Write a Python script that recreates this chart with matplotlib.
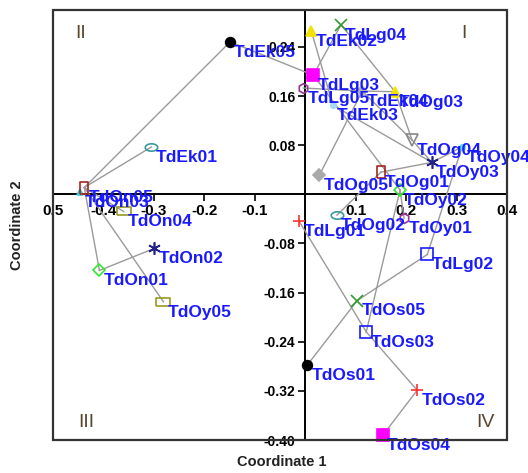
import numpy as np
import matplotlib
matplotlib.use("Agg")
import matplotlib.pyplot as plt
from matplotlib.path import Path
from matplotlib.patches import Rectangle

plt.rcParams["font.family"] = ["Liberation Sans", "DejaVu Sans"]

# point names and coordinates
names = ["TdEk01", "TdEk02", "TdEk03", "TdEk04", "TdEk05",
         "TdLg01", "TdLg02", "TdLg03", "TdLg04", "TdLg05",
         "TdOg01", "TdOg02", "TdOg03", "TdOg04", "TdOg05",
         "TdOn01", "TdOn02", "TdOn03", "TdOn04", "TdOn05",
         "TdOs01", "TdOs02", "TdOs03", "TdOs04", "TdOs05",
         "TdOy01", "TdOy02", "TdOy03", "TdOy04", "TdOy05"]
coord1 = [-0.305, 0.012, 0.055, 0.113, -0.149,
          -0.012, 0.242, 0.016, 0.071, -0.004,
          0.150, 0.063, 0.178, 0.212, 0.028,
          -0.408, -0.299, -0.446, -0.360, -0.438,
          0.004, 0.222, 0.121, 0.154, 0.103,
          0.196, 0.188, 0.251, 0.311, -0.281]
coord2 = [0.077, 0.266, 0.145, 0.168, 0.248,
          -0.044, -0.098, 0.194, 0.276, 0.173,
          0.036, -0.034, 0.167, 0.088, 0.031,
          -0.124, -0.088, 0.003, -0.028, 0.011,
          -0.278, -0.319, -0.224, -0.392, -0.173,
          -0.039, 0.007, 0.052, 0.077, -0.175]

# connections between points
links = [("TdOn05", "TdEk05"), ("TdOn05", "TdEk01"), ("TdOn05", "TdOn01"),
         ("TdOn05", "TdOy05"), ("TdOn01", "TdOn02"), ("TdOn05", "TdOn04"),
         ("TdEk05", "TdLg03"), ("TdLg04", "TdLg03"), ("TdEk02", "TdEk03"),
         ("TdLg04", "TdOg03"), ("TdLg05", "TdEk04"), ("TdEk04", "TdOg03"),
         ("TdOg03", "TdOg04"), ("TdEk04", "TdOg04"), ("TdOg05", "TdEk04"),
         ("TdEk03", "TdOy03"), ("TdLg03", "TdOy02"), ("TdOg01", "TdOy03"),
         ("TdOy03", "TdOy04"), ("TdOg04", "TdOy03"), ("TdOy04", "TdLg02"),
         ("TdLg02", "TdOs05"), ("TdOs05", "TdOs01"), ("TdLg01", "TdOs03"),
         ("TdOs03", "TdOs02"), ("TdOs02", "TdOs04"), ("TdOs03", "TdOy02"),
         ("TdOg02", "TdOg01"), ("TdOy02", "TdOy01")]

xtick_vals = [-0.5, -0.4, -0.3, -0.2, -0.1, 0.1, 0.2, 0.3, 0.4]
xtick_text = ["0.5", "-0.4", "-0.3", "-0.2", "-0.1", "0.1", "0.2", "0.3", "0.4"]
ytick_vals = [-0.40, -0.32, -0.24, -0.16, -0.08, 0.08, 0.16, 0.24]
ytick_text = ["-0.40", "-0.32", "-0.24", "-0.16", "-0.08", "0.08", "0.16", "0.24"]

quad_text = ["II", "I", "III", "IV"]
quad_x = [-0.455, 0.31, -0.45, 0.34]
quad_y = [0.262, 0.262, -0.372, -0.372]

# marker shapes
ell = Path(np.column_stack([np.cos(np.linspace(0, 2 * np.pi, 40)) * 1.7,
                            np.sin(np.linspace(0, 2 * np.pi, 40))]))
tall = Path([(-0.32, -0.5), (0.32, -0.5), (0.32, 0.5), (-0.32, 0.5), (-0.32, -0.5)])
wide = Path([(-0.5, -0.28), (0.5, -0.28), (0.5, 0.28), (-0.5, 0.28), (-0.5, -0.28)])

# name -> (marker, colour, filled, size)
styles = {
    "TdEk01": (ell, "#3a9a9a", False, 9),
    "TdEk02": ("^", "#f2e200", True, 7),
    "TdEk03": ("o", "#a8d8f5", True, 4),
    "TdEk04": ("D", "#b0b0b0", True, 5),
    "TdEk05": ("o", "black", True, 7),
    "TdLg01": ("+", "#ff3030", False, 9),
    "TdLg02": ("s", "#1a1aff", False, 9),
    "TdLg03": ("s", "#ff00ff", True, 8),
    "TdLg04": ("x", "#339933", False, 8),
    "TdLg05": ("h", "#993399", False, 7),
    "TdOg01": (tall, "#aa2222", False, 8),
    "TdOg02": (ell, "#3a9a9a", False, 9),
    "TdOg03": ("^", "#f2e200", True, 7),
    "TdOg04": ("v", "#888888", False, 8),
    "TdOg05": ("D", "#aaaaaa", True, 6),
    "TdOn01": ("D", "#33e633", False, 6),
    "TdOn02": ((6, 2, 0), "#222288", False, 9),
    "TdOn03": ("^", "#33cccc", True, 5),
    "TdOn04": (wide, "#9a9a20", False, 10),
    "TdOn05": (tall, "#aa2222", False, 8),
    "TdOs01": ("o", "black", True, 7),
    "TdOs02": ("+", "#ff3030", False, 9),
    "TdOs03": ("s", "#1a1aff", False, 9),
    "TdOs04": ("s", "#ff00ff", True, 8),
    "TdOs05": ("x", "#339933", False, 8),
    "TdOy01": ("h", "#993399", False, 7),
    "TdOy02": ("D", "#33e633", False, 6),
    "TdOy03": ((6, 2, 0), "#222288", False, 9),
    "TdOy04": ("o", "#66e0ff", True, 4),
    "TdOy05": (wide, "#9a9a20", False, 10),
}

pos = {n: (x, y) for n, x, y in zip(names, coord1, coord2)}

fig = plt.figure(figsize=(5.28, 4.73), dpi=100)
ax = fig.add_axes([53 / 528, 1 - 440 / 473, 454 / 528, 430 / 473])
ax.set_xlim(-0.5, 0.4)
ax.set_ylim(-0.40, 0.30)

# axes through the origin plus an outer frame
ax.spines["left"].set_position(("data", 0))
ax.spines["bottom"].set_position(("data", 0))
ax.spines["top"].set_visible(False)
ax.spines["right"].set_visible(False)
for s in ("left", "bottom"):
    ax.spines[s].set_color("black")
    ax.spines[s].set_linewidth(1.4)
    ax.spines[s].set_zorder(1)
ax.add_patch(Rectangle((0, 0), 1, 1, transform=ax.transAxes, fill=False,
                       edgecolor="#333333", lw=1.6, clip_on=False, zorder=5))

ax.set_xticks(xtick_vals)
ax.set_xticklabels(xtick_text, fontsize=11, fontweight="bold")
ax.set_yticks(ytick_vals)
ax.set_yticklabels(ytick_text, fontsize=10, fontweight="bold")
ax.tick_params(axis="x", direction="out", length=5, width=1.2, pad=2)
ax.tick_params(axis="y", direction="out", length=5, width=1.2, pad=2)

for a, b in links:
    ax.plot([pos[a][0], pos[b][0]], [pos[a][1], pos[b][1]],
            color="#9a9a9a", lw=1, zorder=2)

for n in names:
    m, c, filled, ms = styles[n]
    ax.plot(pos[n][0], pos[n][1], marker=m, ms=ms, mec=c,
            mfc=c if filled else "none", mew=1.2, ls="none", zorder=3,
            clip_on=False)

for n in names:
    ax.annotate(n, pos[n], xytext=(3, -7.5), textcoords="offset points",
                ha="left", va="center", color="#1a1aff", fontsize=12.5,
                fontweight="bold", zorder=4, annotation_clip=False)

for t, x, y in zip(quad_text, quad_x, quad_y):
    ax.text(x, y, t, fontsize=14, color="#5a4630", ha="left", va="center")

fig.text(282 / 528, 1 - 462 / 473, "Coordinate 1", ha="center", va="center",
         fontsize=10.5, fontweight="bold", color="#222222")
fig.text(17 / 528, 1 - 225 / 473, "Coordinate 2", ha="center", va="center",
         rotation=90, fontsize=10.5, fontweight="bold", color="#222222")

fig.savefig("out.png", dpi=100)
